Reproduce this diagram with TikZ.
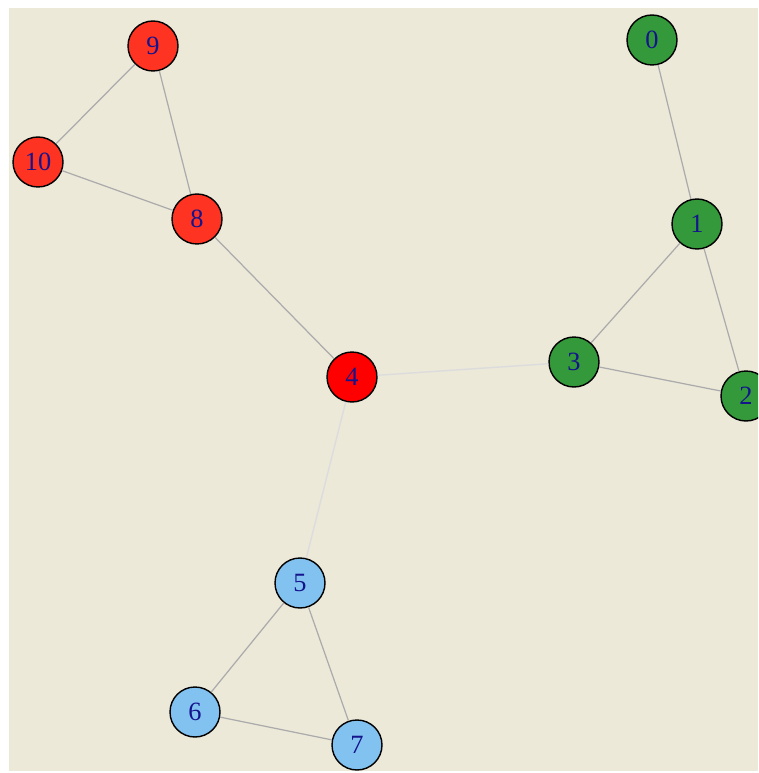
\documentclass[tikz,border=0pt]{standalone}
\usepackage{fontspec}
\setmainfont{Liberation Serif}
\usetikzlibrary{positioning}

\definecolor{bg}{HTML}{ECE9D9}
\definecolor{redA}{HTML}{FF3322}
\definecolor{redB}{HTML}{FF0000}
\definecolor{greenA}{HTML}{33993A}
\definecolor{blueA}{HTML}{82C2F0}
\definecolor{txt}{HTML}{14148C}
\definecolor{edge}{HTML}{ABABAB}
\definecolor{faint}{HTML}{DCDCDC}

\tikzset{
  vertex/.style={circle, draw=black, line width=0.8pt, minimum size=1cm,
                 inner sep=0pt, text=txt, font=\fontsize{15}{15}\selectfont},
  link/.style={draw=edge, line width=0.7pt},
  weak/.style={draw=faint, line width=0.8pt}
}

\begin{document}
\begin{tikzpicture}[x=0.02cm,y=-0.02cm]

\useasboundingbox (0,0) rectangle (758,773);
\fill[white] (0,0) rectangle (758,773);
\fill[bg] (9,8) rectangle (758,771);
\clip (9,8) rectangle (758,771);

\node (v0)  [vertex, fill=greenA] at (652,40)  {0};
\node (v1)  [vertex, fill=greenA] at (697,224) {1};
\node (v2)  [vertex, fill=greenA] at (746,396) {2};
\node (v3)  [vertex, fill=greenA] at (574,362) {3};
\node (v4)  [vertex, fill=redB]   at (352,377) {4};
\node (v5)  [vertex, fill=blueA]  at (300,583) {5};
\node (v6)  [vertex, fill=blueA]  at (195,712) {6};
\node (v7)  [vertex, fill=blueA]  at (357,745) {7};
\node (v8)  [vertex, fill=redA]   at (197,219) {8};
\node (v9)  [vertex, fill=redA]   at (153,46)  {9};
\node (v10) [vertex, fill=redA]   at (38,162)  {10};

\draw[link] (v0) -- (v1);
\draw[link] (v1) -- (v2);
\draw[link] (v1) -- (v3);
\draw[link] (v3) -- (v2);
\draw[weak] (v4) -- (v3);
\draw[weak] (v4) -- (v5);
\draw[link] (v4) -- (v8);
\draw[link] (v9) -- (v8);
\draw[link] (v9) -- (v10);
\draw[link] (v10) -- (v8);
\draw[link] (v5) -- (v6);
\draw[link] (v5) -- (v7);
\draw[link] (v6) -- (v7);

\end{tikzpicture}
\end{document}
